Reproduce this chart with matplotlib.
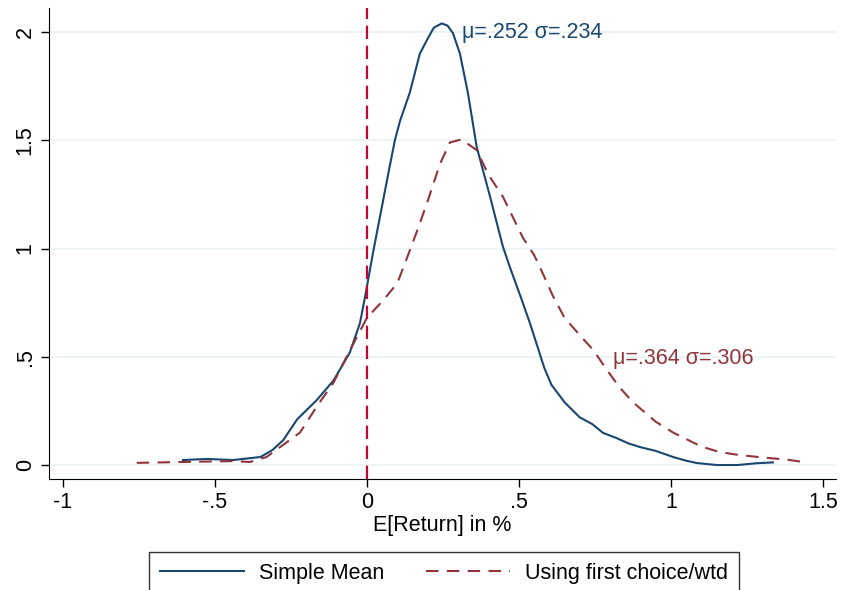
import numpy as np
import matplotlib
matplotlib.use("Agg")
import matplotlib.pyplot as plt

plt.rcParams['font.family'] = ['Liberation Sans', 'DejaVu Sans']

# ---- data ----
simple_x = [-0.605, -0.526, -0.44, -0.35, -0.31, -0.275, -0.23, -0.165, -0.11, -0.056,
            -0.023, -0.007, 0.02, 0.053, 0.075, 0.092, 0.109, 0.141, 0.174, 0.2,
            0.22, 0.246, 0.265, 0.283, 0.306, 0.332, 0.361, 0.382, 0.405, 0.447,
            0.47, 0.51, 0.535, 0.558, 0.583, 0.607, 0.65, 0.70, 0.74, 0.777,
            0.82, 0.86, 0.898, 0.95, 1.007, 1.05, 1.085, 1.15, 1.22, 1.28, 1.335]
simple_y = [0.023, 0.028, 0.023, 0.037, 0.07, 0.115, 0.21, 0.30, 0.39, 0.52,
            0.655, 0.77, 0.98, 1.22, 1.38, 1.50, 1.59, 1.72, 1.90, 1.97,
            2.02, 2.04, 2.03, 1.995, 1.90, 1.72, 1.47, 1.36, 1.24, 1.01,
            0.915, 0.76, 0.66, 0.56, 0.45, 0.37, 0.29, 0.22, 0.19, 0.148,
            0.125, 0.10, 0.083, 0.065, 0.037, 0.02, 0.009, 0.0, 0.0, 0.008, 0.012]

wtd_x = [-0.757, -0.605, -0.44, -0.385, -0.33, -0.22, -0.165, -0.11, -0.056, 0.0,
         0.053, 0.1, 0.13, 0.17, 0.2, 0.24, 0.273, 0.311, 0.361, 0.4,
         0.447, 0.513, 0.55, 0.58, 0.612, 0.65, 0.7, 0.745, 0.789, 0.83,
         0.875, 0.95, 1.007, 1.05, 1.1, 1.16, 1.22, 1.3, 1.38, 1.435]
wtd_y = [0.01, 0.014, 0.018, 0.014, 0.037, 0.15, 0.27, 0.38, 0.53, 0.68,
         0.76, 0.84, 0.95, 1.10, 1.22, 1.39, 1.49, 1.504, 1.455, 1.34,
         1.24, 1.05, 0.97, 0.88, 0.78, 0.68, 0.6, 0.53, 0.44, 0.36,
         0.29, 0.2, 0.15, 0.12, 0.085, 0.06, 0.047, 0.035, 0.025, 0.014]

xticks = [-1, -0.5, 0, 0.5, 1, 1.5]
xticklabels = ['-1', '-.5', '0', '.5', '1', '1.5']
yticks = [0, 0.5, 1, 1.5, 2]
yticklabels = ['0', '.5', '1', '1.5', '2']

navy = '#1a476f'
maroon = '#90353b'
crimson = '#c10534'
fs = 15.5

fig = plt.figure(figsize=(8.42, 5.90), dpi=100)
ax = fig.add_axes([0.058, 0.188, 0.935, 0.798])

ax.plot(simple_x, simple_y, color=navy, lw=1.5, label='Simple Mean')
ax.plot(wtd_x, wtd_y, color=maroon, lw=1.5, ls=(0, (6, 4)), label='Using first choice/wtd')
ax.axvline(0, color=crimson, lw=1.6, ls=(0, (6, 3)))

ax.text(0.313, 2.0, 'μ=.252 σ=.234', color=navy, fontsize=fs, va='center', ha='left')
ax.text(0.81, 0.49, 'μ=.364 σ=.306', color=maroon, fontsize=fs, va='center', ha='left')

ax.set_xlim(-1.046, 1.543)
ax.set_ylim(-0.065, 2.11)
ax.set_xticks(xticks)
ax.set_xticklabels(xticklabels)
ax.set_yticks(yticks)
ax.set_yticklabels(yticklabels, rotation=90, va='center')
ax.tick_params(labelsize=fs, length=6, width=1, direction='out', colors='black')
ax.grid(axis='y', color='#eaf2f3', lw=1.2)
ax.set_axisbelow(True)
for s in ['top', 'right']:
    ax.spines[s].set_visible(False)
ax.set_xlabel('E[Return] in %', fontsize=fs, labelpad=1)

fig.legend(loc='upper center', bbox_to_anchor=(0.527, 1 - 552 / 590), ncol=2,
           fontsize=fs, frameon=True, fancybox=False, edgecolor='black',
           handlelength=3.9, handletextpad=0.7, columnspacing=1.95,
           borderpad=0.5, borderaxespad=0)

fig.savefig('out.png', dpi=100)
